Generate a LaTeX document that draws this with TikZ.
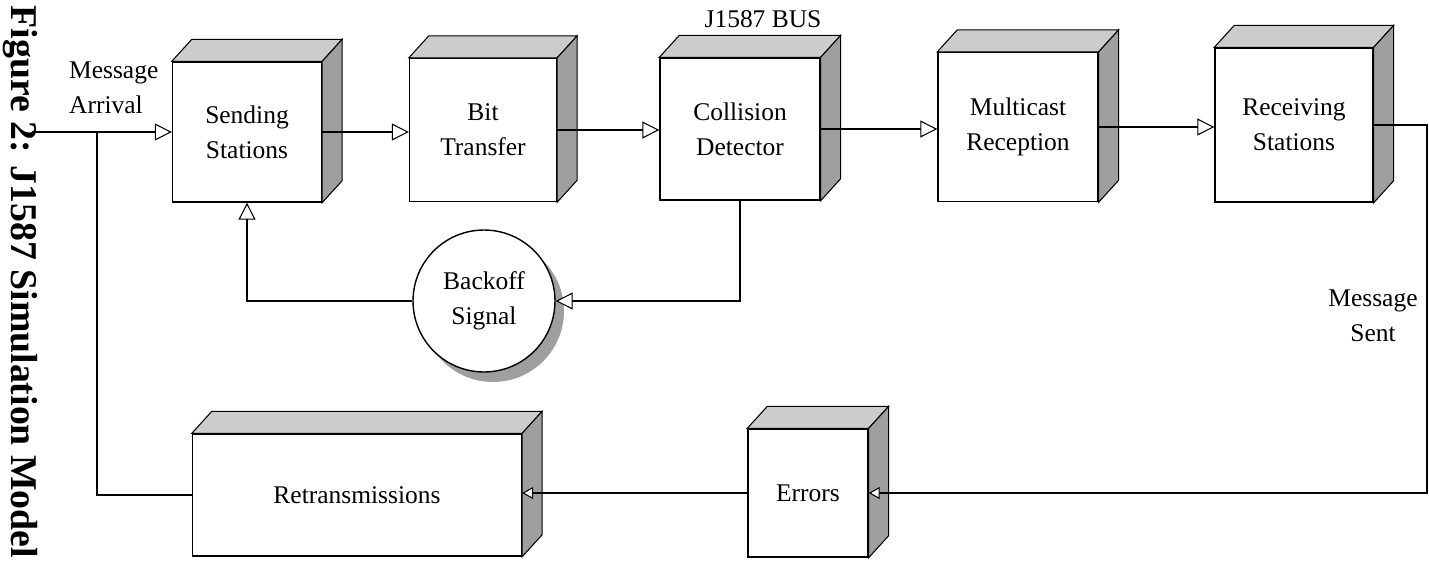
\documentclass[tikz,border=0pt]{standalone}
\usepackage{fontspec}
\setmainfont{Liberation Serif}
\usetikzlibrary{arrows.meta}

% top and side faces of a block
\newcommand{\slab}[1]{%
  \filldraw[topface] (#1.north west) -- ++(20,-22) -- ([shift={(20,-22)}]#1.north east) -- (#1.north east) -- cycle;
  \filldraw[sideface] (#1.north east) -- ++(20,-22) -- ([shift={(20,-22)}]#1.south east) -- (#1.south east) -- cycle;}

\begin{document}
\begin{tikzpicture}[x=0.02cm,y=-0.02cm,
  font=\fontsize{14.5}{20}\selectfont,
  block/.style={draw,fill=white,line width=0.8pt,align=center,inner sep=0pt},
  topface/.style={fill=gray!40,draw=black,line width=0.6pt},
  sideface/.style={fill=gray!75,draw=black,line width=0.6pt},
  wire/.style={line width=0.6pt},
  flow/.style={wire,-{Triangle[length=0.34cm,width=0.34cm,fill=white]}},
  flowin/.style={wire,-{Triangle[length=0.22cm,width=0.24cm,fill=white]}}]
  \useasboundingbox (0,0) rectangle (1429,561);

  \node[block,minimum width=2.98cm,minimum height=2.8cm] (send) at (247,132) {Sending\\Stations};
  \node[block,minimum width=2.94cm,minimum height=2.86cm] (bit) at (483,130) {Bit\\Transfer};
  \node[block,minimum width=3.2cm,minimum height=2.84cm] (coll) at (740,129) {Collision\\Detector};
  \node[block,minimum width=3.2cm,minimum height=2.98cm] (mcast) at (1018,127) {Multicast\\Reception};
  \node[block,minimum width=3.16cm,minimum height=3.08cm] (recv) at (1294,125) {Receiving\\Stations};
  \node[block,minimum width=6.58cm,minimum height=2.44cm] (retx) at (357,495) {Retransmissions};
  \node[block,minimum width=2.4cm,minimum height=2.56cm] (err) at (808,493) {Errors};
  \slab{send} \slab{bit} \slab{coll} \slab{mcast} \slab{recv} \slab{retx} \slab{err}

  \fill[gray!75] (493,311) circle [radius=1.42cm];
  \node[block,circle,minimum size=2.84cm] (back) at (484,301) {Backoff\\Signal};

  \node[align=left,anchor=west] (arrlbl) at (63,88) {Message\\Arrival};
  \node[align=center] (sentlbl) at (1373,316) {Message\\Sent};
  \node (buslbl) at (763,19) {J1587 BUS};
  \node[rotate=-90,font=\bfseries\fontsize{21.5}{24}\selectfont] (cap) at (20,282) {Figure 2: J1587 Simulation Model};

  \coordinate (src) at (32,132);
  \coordinate (split) at (97,132);
  \coordinate (turn) at (1427,493);

  \draw[flow] (src) -- (send.west);
  \draw[wire] (retx.west) -| (split);
  \draw[flow] (send.east) -- (send.east -| bit.west);
  \draw[flow] (bit.east) -- (bit.east -| coll.west);
  \draw[flow] (coll.east) -- (coll.east -| mcast.west);
  \draw[flow] (mcast.east) -- (mcast.east -| recv.west);
  \draw[flow] (coll.south) |- (back.east);
  \draw[flow] (back.west) -| (send.south);
  \draw[flowin] (recv.east) -| (turn) -- (err.east);
  \draw[flowin] (err.west) -- (err.west -| retx.east);
\end{tikzpicture}
\end{document}
